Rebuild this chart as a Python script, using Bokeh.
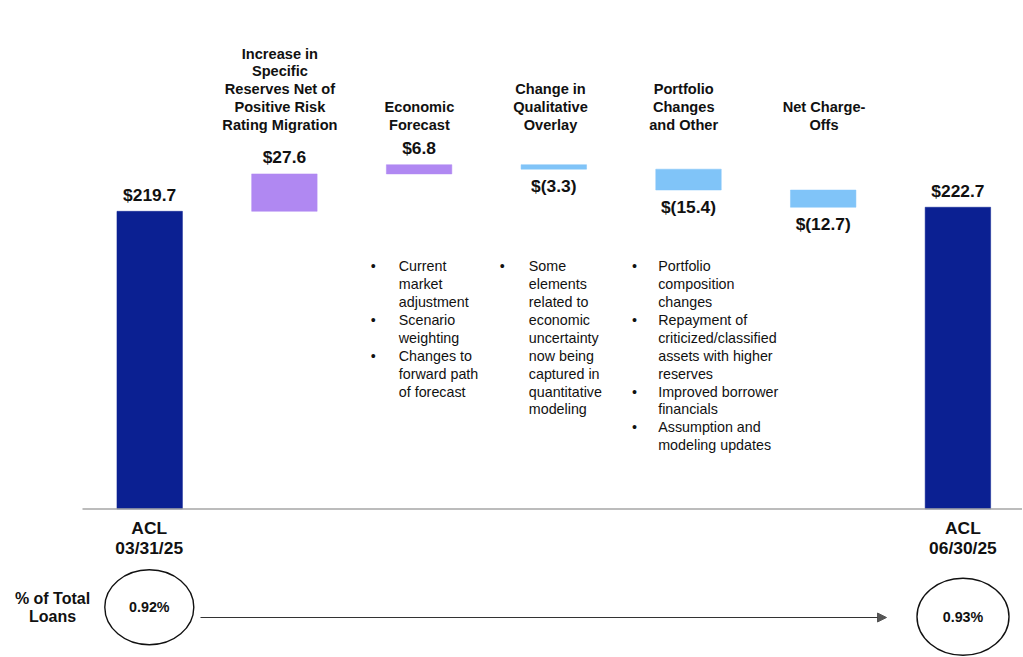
from bokeh.plotting import figure
from bokeh.models import Range1d, ColumnDataSource, Arrow, NormalHead
from bokeh.core.properties import value
from bokeh.embed import file_html
from bokeh.resources import INLINE

# ---------------- data ----------------
categories = ["ACL 03/31/25", "Increase in Specific Reserves", "Economic Forecast",
              "Change in Qualitative Overlay", "Portfolio Changes and Other",
              "Net Charge-Offs", "ACL 06/30/25"]
changes = [219.7, 27.6, 6.8, -3.3, -15.4, -12.7, 222.7]
kinds = ["total", "increase", "increase", "decrease", "decrease", "decrease", "total"]
value_labels = ["$219.7", "$27.6", "$6.8", "$(3.3)", "$(15.4)", "$(12.7)", "$222.7"]
title_lines = [
    [],
    ["Increase in", "Specific", "Reserves Net of", "Positive Risk", "Rating Migration"],
    ["Economic", "Forecast"],
    ["Change in", "Qualitative", "Overlay"],
    ["Portfolio", "Changes", "and Other"],
    ["Net Charge-", "Offs"],
    [],
]
bottom_labels = {0: ["ACL", "03/31/25"], 6: ["ACL", "06/30/25"]}
pct_labels = ["0.92%", "0.93%"]
pct_title = ["% of Total", "Loans"]
bullets_col1 = [["Current", "market", "adjustment"], ["Scenario", "weighting"],
                ["Changes to", "forward path", "of forecast"]]
bullets_col2 = [["Some", "elements", "related to", "economic", "uncertainty",
                 "now being", "captured in", "quantitative", "modeling"]]
bullets_col3 = [["Portfolio", "composition", "changes"],
                ["Repayment of", "criticized/classified", "assets with higher", "reserves"],
                ["Improved borrower", "financials"],
                ["Assumption and", "modeling updates"]]

# ---------------- layout helpers (page pixels -> data) ----------------
X0, DX = 149.2, 134.7      # page x of first bar centre, spacing per category
Y0, SY = 508.5, 1.355      # page y of zero line, pixels per $mm
W, H = 1022, 656

def dx(px):
    return (px - X0) / DX

def dy(py):
    return (Y0 - py) / SY

COLORS = {"total": "#0B2092", "increase": "#B088F2", "decrease": "#80C4F8"}
FONT = value("Liberation Sans")

p = figure(width=W, height=H, output_backend="svg", toolbar_location=None,
           x_range=Range1d(dx(0), dx(W)), y_range=Range1d(dy(H), dy(0)),
           min_border=0, outline_line_color=None)
p.axis.visible = False
p.grid.visible = False
p.background_fill_color = "white"
p.border_fill_color = "white"

# ---------------- bars ----------------
bottoms, tops = [], []
running = 0.0
for c, k in zip(changes, kinds):
    if k == "total":
        bottoms.append(0.0)
        tops.append(c)
        running = c
    else:
        new = running + c
        bottoms.append(min(running, new))
        tops.append(max(running, new))
        running = new

xs = list(range(len(categories)))
src = ColumnDataSource(dict(x=xs, bottom=bottoms, top=tops,
                            color=[COLORS[k] for k in kinds]))
p.vbar(x="x", bottom="bottom", top="top", width=0.486, fill_color="color",
       line_color="color", line_width=0.5, source=src)

# zero line
p.segment(x0=dx(82), y0=0, x1=dx(1023), y1=0, line_color="#A6A6A6", line_width=1.6)

# ---------------- value labels ----------------
for i, (lab, k) in enumerate(zip(value_labels, kinds)):
    if k == "decrease":
        p.text(x=[i], y=[bottoms[i]], text=[lab], text_align="center",
               text_baseline="middle", y_offset=16.5, text_font=FONT,
               text_font_style="bold", text_font_size="17.4px", text_color="#111111")
    else:
        p.text(x=[i], y=[tops[i]], text=[lab], text_align="center",
               text_baseline="middle", y_offset=-16.5, text_font=FONT,
               text_font_style="bold", text_font_size="17.4px", text_color="#111111")

# ---------------- category titles ----------------
title_dx = [0, -4.5, 0.3, -3.3, -4.8, 0.8, 0]
tx, ty, tt = [], [], []
for i, lines in enumerate(title_lines):
    n = len(lines)
    for k, line in enumerate(lines):
        tx.append(i + title_dx[i] / DX)
        ty.append(dy(124.2 - 17.8 * (n - 1 - k)))
        tt.append(line)
p.text(x=tx, y=ty, text=tt, text_align="center", text_baseline="middle",
       text_font=FONT, text_font_style="bold", text_font_size="14.6px",
       text_color="#111111")

# ---------------- bottom labels ----------------
bx, by, bt = [], [], []
bottom_dx = {0: -0.5, 6: 5.0}
for i, lines in bottom_labels.items():
    for k, line in enumerate(lines):
        bx.append(i + bottom_dx[i] / DX)
        by.append(dy(527.7 + 19.6 * k))
        bt.append(line)
p.text(x=bx, y=by, text=bt, text_align="center", text_baseline="middle",
       text_font=FONT, text_font_style="bold", text_font_size="17.4px",
       text_color="#111111")

# ---------------- bullets ----------------
def bullet_column(items, bullet_px, text_px, y_start=265.7, step=17.9):
    bxs, bys, lxs, lys, lts = [], [], [], [], []
    row = 0
    for item in items:
        bxs.append(dx(bullet_px))
        bys.append(dy(y_start + step * row))
        for line in item:
            lxs.append(dx(text_px))
            lys.append(dy(y_start + step * row))
            lts.append(line)
            row += 1
    p.text(x=bxs, y=bys, text=["\u2022"] * len(bxs), text_align="center",
           text_baseline="middle", text_font=FONT, text_font_size="14.3px",
           text_color="#111111")
    p.text(x=lxs, y=lys, text=lts, text_align="left", text_baseline="middle",
           text_font=FONT, text_font_size="14.3px", text_color="#111111")

bullet_column(bullets_col1, 372.7, 398.3)
bullet_column(bullets_col2, 501.7, 528.3)
bullet_column(bullets_col3, 634.0, 657.7)

# ---------------- % of total loans ----------------
p.text(x=[dx(52), dx(52)], y=[dy(597.5), dy(616.2)], text=pct_title,
       text_align="center", text_baseline="middle", text_font=FONT,
       text_font_style="bold", text_font_size="16px", text_color="#111111")

ell_x = [dx(148.8), dx(962.5)]
ell_y = [dy(606.7), dy(616.3)]
p.ellipse(x=ell_x, y=ell_y, width=[89, 92], height=[75, 77], width_units="screen",
          height_units="screen", fill_color="white", line_color="#111111", line_width=1.4)
p.text(x=ell_x, y=ell_y, text=pct_labels, text_align="center", text_baseline="middle",
       text_font=FONT, text_font_style="bold", text_font_size="14.3px",
       text_color="#111111")

p.add_layout(Arrow(end=NormalHead(size=9, fill_color="#555555", line_color="#555555"),
                   x_start=dx(200), y_start=dy(617), x_end=dx(886), y_end=dy(617),
                   line_color="#333333", line_width=1.2))

open("out.html", "w").write(file_html(p, INLINE))
